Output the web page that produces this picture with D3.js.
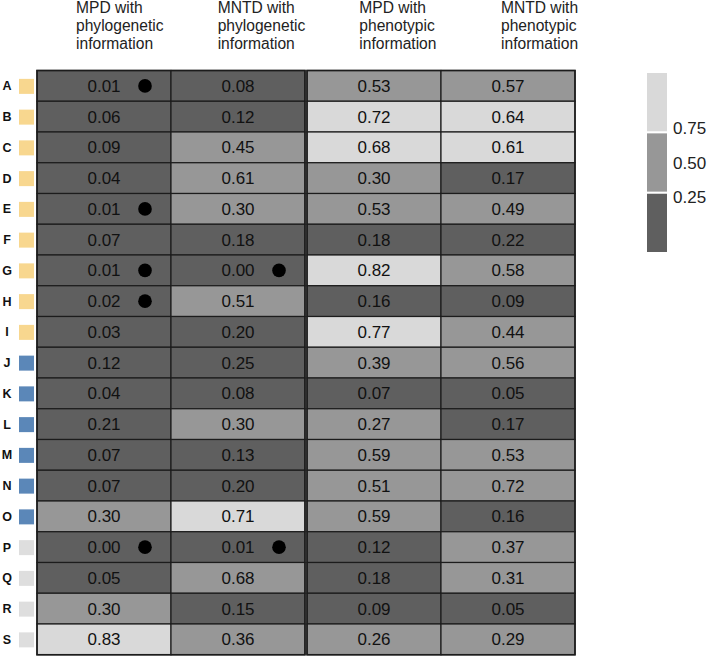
<!DOCTYPE html>
<html>
<head>
<meta charset="utf-8">
<script src="https://cdn.jsdelivr.net/npm/d3@7"></script>
<style>
  html, body { margin: 0; padding: 0; background: #fff; }
  svg { display: block; }
</style>
</head>
<body>
<svg id="chart" width="709" height="658"></svg>
<script>
// ---------------- data ----------------
const rows = ["A","B","C","D","E","F","G","H","I","J","K","L","M","N","O","P","Q","R","S"];
const rowGroups = ["yellow","yellow","yellow","yellow","yellow","yellow","yellow","yellow","yellow",
                   "blue","blue","blue","blue","blue","blue",
                   "grey","grey","grey","grey"];
const columns = ["MPD with phylogenetic information","MNTD with phylogenetic information",
                 "MPD with phenotypic information","MNTD with phenotypic information"];
const columnPanels = ["phylo","phylo","pheno","pheno"];

const mpdPhylo   = [0.01,0.06,0.09,0.04,0.01,0.07,0.01,0.02,0.03,0.12,0.04,0.21,0.07,0.07,0.30,0.00,0.05,0.30,0.83];
const mntdPhylo  = [0.08,0.12,0.45,0.61,0.30,0.18,0.00,0.51,0.20,0.25,0.08,0.30,0.13,0.20,0.71,0.01,0.68,0.15,0.36];
const mpdPheno   = [0.53,0.72,0.68,0.30,0.53,0.18,0.82,0.16,0.77,0.39,0.07,0.27,0.59,0.51,0.59,0.12,0.18,0.09,0.26];
const mntdPheno  = [0.57,0.64,0.61,0.17,0.49,0.22,0.58,0.09,0.44,0.56,0.05,0.17,0.53,0.72,0.16,0.37,0.31,0.05,0.29];

// shade class of each cell as drawn (0 = dark, 1 = medium, 2 = light)
const shadeMpdPhylo  = [0,0,0,0,0,0,0,0,0,0,0,0,0,0,1,0,0,1,2];
const shadeMntdPhylo = [0,0,1,1,1,0,0,1,0,0,0,1,0,0,2,0,1,0,1];
const shadeMpdPheno  = [1,2,2,1,1,0,2,0,2,1,0,1,1,1,1,0,0,0,1];
const shadeMntdPheno = [1,2,2,0,1,0,1,0,1,1,0,0,1,1,0,1,1,0,1];

// significance markers (black dots)
const sigMpdPhylo  = ["A","E","G","H","P"];
const sigMntdPhylo = ["G","P"];

const legendLevels = [2,1,0];
const legendTicks = [0.75,0.50,0.25];

// ---------------- build ----------------
const valueCols = [mpdPhylo, mntdPhylo, mpdPheno, mntdPheno];
const shadeCols = [shadeMpdPhylo, shadeMntdPhylo, shadeMpdPheno, shadeMntdPheno];
const sigCols = [sigMpdPhylo, sigMntdPhylo, [], []];

const cells = [];
columns.forEach((c, ci) => {
  rows.forEach((r, ri) => {
    cells.push({col: c, ci, row: r, value: valueCols[ci][ri], shade: shadeCols[ci][ri],
                sig: sigCols[ci].includes(r)});
  });
});

const svg = d3.select("#chart");
const panelGap = 2;

const x = d3.scaleBand().domain(columns).range([37, 573]).paddingInner(0).paddingOuter(0);
const panelIndex = d3.scaleOrdinal().domain(["phylo","pheno"]).range([0,1]);
const colX = c => x(c) + panelIndex(columnPanels[columns.indexOf(c)]) * panelGap;
const y = d3.scaleBand().domain(rows).range([70.5, 654.75]);

const shadeColor = d3.scaleOrdinal().domain([0,1,2]).range(["#5f5f5f","#979797","#d9d9d9"]);
const groupColor = d3.scaleOrdinal().domain(["yellow","blue","grey"]).range(["#f8d78f","#5b87b8","#dedede"]);

// headers
const headerX = d3.scaleLinear().domain([0,3]).range([76, 501]);
const headerLines = columns.map(c => {
  const m = c.match(/^(\S+ with) (\S+) (\S+)$/);
  return [m[1], m[2], m[3]];
});
const hdr = svg.append("g").attr("class","headers");
headerLines.forEach((lines, i) => {
  const t = hdr.append("text")
    .attr("x", headerX(i)).attr("y", 12.5)
    .attr("font-family", "'Liberation Sans', Arial, sans-serif")
    .attr("font-size", 15.6).attr("fill", "#222");
  lines.forEach((l, li) => {
    t.append("tspan").attr("x", headerX(i)).attr("dy", li === 0 ? 0 : 18.4).text(l);
  });
});

// cells
const cellG = svg.append("g").attr("class","cells");
cellG.selectAll("rect").data(cells).join("rect")
  .attr("x", d => colX(d.col))
  .attr("y", d => y(d.row))
  .attr("width", x.bandwidth())
  .attr("height", y.bandwidth())
  .attr("fill", d => shadeColor(d.shade))
  .attr("stroke", "#1c1c1c")
  .attr("stroke-width", 1.2);

cellG.selectAll("text").data(cells).join("text")
  .attr("x", d => colX(d.col) + x.bandwidth()/2)
  .attr("y", d => y(d.row) + y.bandwidth()/2)
  .attr("dy", "0.36em")
  .attr("text-anchor", "middle")
  .attr("font-family", "'Liberation Sans', Arial, sans-serif")
  .attr("font-size", 17)
  .attr("fill", "#111")
  .text(d => d.value.toFixed(2));

cellG.selectAll("circle").data(cells.filter(d => d.sig)).join("circle")
  .attr("cx", d => colX(d.col) + x.bandwidth()/2 + 41)
  .attr("cy", d => y(d.row) + y.bandwidth()/2)
  .attr("r", 6.8)
  .attr("fill", "#000");

// panel outlines
["phylo","pheno"].forEach(p => {
  const cs = columns.filter((c, i) => columnPanels[i] === p);
  const x0 = colX(cs[0]);
  const x1 = colX(cs[cs.length-1]) + x.bandwidth();
  svg.append("rect")
    .attr("x", x0).attr("y", y.range()[0])
    .attr("width", x1 - x0).attr("height", y.range()[1] - y.range()[0])
    .attr("fill", "none").attr("stroke", "#1c1c1c").attr("stroke-width", 1.6);
});

// row labels and group squares
const rowG = svg.append("g").attr("class","rowlabels");
rowG.selectAll("text").data(rows).join("text")
  .attr("x", 7)
  .attr("y", d => y(d) + y.bandwidth()/2)
  .attr("dy", "0.36em")
  .attr("text-anchor", "middle")
  .attr("font-family", "'Liberation Sans', Arial, sans-serif")
  .attr("font-weight", "bold")
  .attr("font-size", 12.5)
  .attr("fill", "#111")
  .text(d => d);
rowG.selectAll("rect").data(rows).join("rect")
  .attr("x", 19)
  .attr("y", d => y(d) + y.bandwidth()/2 - 7)
  .attr("width", 15)
  .attr("height", 15)
  .attr("fill", (d, i) => groupColor(rowGroups[i]));

// legend
const ly = d3.scaleBand().domain(legendLevels).range([73, 252]).paddingInner(0.035);
const legG = svg.append("g").attr("class","legend");
legG.selectAll("rect").data(legendLevels).join("rect")
  .attr("x", 647).attr("y", d => ly(d))
  .attr("width", 20).attr("height", ly.bandwidth())
  .attr("fill", d => shadeColor(d));
const lt = d3.scaleLinear().domain([0.25, 0.75]).range([197, 128]);
legG.selectAll("text").data(legendTicks).join("text")
  .attr("x", 673).attr("y", d => lt(d))
  .attr("dy", "0.36em")
  .attr("font-family", "'Liberation Sans', Arial, sans-serif")
  .attr("font-size", 17)
  .attr("fill", "#222")
  .text(d => d.toFixed(2));
</script>
</body>
</html>
